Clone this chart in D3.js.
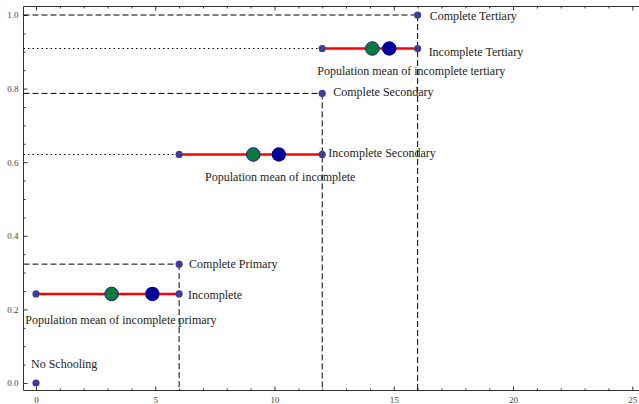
<!DOCTYPE html>
<html>
<head>
<meta charset="utf-8">
<script src="https://cdn.jsdelivr.net/npm/d3@7"></script>
<style>
  body { margin: 0; background: #fff; }
  svg { display: block; font-family: "Liberation Serif", "Times New Roman", serif; }
</style>
</head>
<body>
<div id="chart"></div>
<script>
// Completed levels (years of schooling, cumulative share)
const completeLevels = ['No Schooling', 'Complete Primary', 'Complete Secondary', 'Complete Tertiary'];
const completeYears = [0, 6, 12, 16];
const completeShare = [0, 0.323, 0.787, 1.0];

// Incomplete levels: range of years and cumulative share
const incompleteLevels = ['Incomplete', 'Incomplete Secondary', 'Incomplete Tertiary'];
const incompleteStart = [0, 6, 12];
const incompleteEnd = [6, 12, 16];
const incompleteShare = [0.242, 0.621, 0.909];

// Means inside each incomplete range
const populationMean = [3.17, 9.11, 14.1];
const otherMean = [4.88, 10.18, 14.81];

const meanLabels = ['Population mean of incomplete primary', 'Population mean of incomplete', 'Population mean of incomplete tertiary'];

// Ticks
const xTicks = [0, 5, 10, 15, 20, 25];
const yTicks = [0, 0.2, 0.4, 0.6, 0.8, 1.0];

const width = 639;
const height = 404;

const frame = { left: 23.5, top: 6.5, bottom: 390.5, right: 639 };

const x = d3.scaleLinear().domain([0, 25]).range([36, 632.3]);
const y = d3.scaleLinear().domain([0, 1]).range([383, 15]);

const svg = d3.select('#chart')
    .append('svg')
    .attr('width', width)
    .attr('height', height);

// Frame
svg.append('path')
    .attr('d', `M${frame.right},${frame.top}H${frame.left}V${frame.bottom}H${frame.right}`)
    .attr('fill', 'none')
    .attr('stroke', '#333')
    .attr('stroke-width', 1);

const xMinor = d3.range(0, 26, 1).filter((d) => d % 5 !== 0);
const yMinor = d3.range(0, 1.001, 0.05).filter((d) => Math.abs(d * 5 - Math.round(d * 5)) > 1e-6);

const styleAxis = (g) => {
    g.select('.domain').remove();
    g.selectAll('line').attr('stroke', '#333');
    g.selectAll('text').attr('fill', '#444').style('font-size', '9px').style('font-family', '"Liberation Serif", serif');
};

// Bottom axis
svg.append('g')
    .attr('transform', `translate(0,${frame.bottom})`)
    .call(d3.axisBottom(x).tickValues(xTicks).tickSize(-4).tickPadding(6).tickFormat(d3.format('d')))
    .call(styleAxis);
svg.append('g')
    .attr('transform', `translate(0,${frame.bottom})`)
    .call(d3.axisBottom(x).tickValues(xMinor).tickSize(-2).tickFormat(''))
    .call(styleAxis);

// Top axis
svg.append('g')
    .attr('transform', `translate(0,${frame.top})`)
    .call(d3.axisTop(x).tickValues(xTicks).tickSize(-4).tickFormat(''))
    .call(styleAxis);
svg.append('g')
    .attr('transform', `translate(0,${frame.top})`)
    .call(d3.axisTop(x).tickValues(xMinor).tickSize(-2).tickFormat(''))
    .call(styleAxis);

// Left axis
svg.append('g')
    .attr('transform', `translate(${frame.left},0)`)
    .call(d3.axisLeft(y).tickValues(yTicks).tickSize(-4).tickPadding(5).tickFormat(d3.format('.1f')))
    .call(styleAxis);
svg.append('g')
    .attr('transform', `translate(${frame.left},0)`)
    .call(d3.axisLeft(y).tickValues(yMinor).tickSize(-2).tickFormat(''))
    .call(styleAxis);

// Dashed guides to complete levels
completeYears.forEach((yr, i) => {
    if (i === 0) return;
    svg.append('line')
        .attr('x1', frame.left).attr('x2', x(yr))
        .attr('y1', y(completeShare[i])).attr('y2', y(completeShare[i]))
        .attr('stroke', '#000').attr('stroke-width', 1)
        .attr('stroke-dasharray', '6,3');
    svg.append('line')
        .attr('x1', x(yr)).attr('x2', x(yr))
        .attr('y1', y(completeShare[i])).attr('y2', frame.bottom)
        .attr('stroke', '#000').attr('stroke-width', 1)
        .attr('stroke-dasharray', '6,3');
});

// Dotted guides to incomplete levels
incompleteStart.forEach((s, i) => {
    if (s === 0) return;
    svg.append('line')
        .attr('x1', frame.left).attr('x2', x(s))
        .attr('y1', y(incompleteShare[i])).attr('y2', y(incompleteShare[i]))
        .attr('stroke', '#000').attr('stroke-width', 1)
        .attr('stroke-dasharray', '1.5,3');
});

// Red segments
svg.selectAll('.seg')
    .data(incompleteShare)
    .enter()
    .append('line')
    .attr('class', 'seg')
    .attr('x1', (d, i) => x(incompleteStart[i]))
    .attr('x2', (d, i) => x(incompleteEnd[i]))
    .attr('y1', (d) => y(d))
    .attr('y2', (d) => y(d))
    .attr('stroke', '#ff0000')
    .attr('stroke-width', 2.5);

const smallColor = '#3d3d99';

// Small points
const smallPts = [];
completeYears.forEach((yr, i) => smallPts.push([yr, completeShare[i]]));
incompleteStart.forEach((s, i) => {
    smallPts.push([s, incompleteShare[i]]);
    smallPts.push([incompleteEnd[i], incompleteShare[i]]);
});

// Means
svg.selectAll('.pm')
    .data(populationMean)
    .enter()
    .append('circle')
    .attr('cx', (d) => x(d))
    .attr('cy', (d, i) => y(incompleteShare[i]))
    .attr('r', 6.8)
    .attr('fill', '#0a7a3c')
    .attr('stroke', '#1a1a99')
    .attr('stroke-width', 1);

svg.selectAll('.om')
    .data(otherMean)
    .enter()
    .append('circle')
    .attr('cx', (d) => x(d))
    .attr('cy', (d, i) => y(incompleteShare[i]))
    .attr('r', 7.2)
    .attr('fill', '#000099');

svg.selectAll('.sp')
    .data(smallPts)
    .enter()
    .append('circle')
    .attr('cx', (d) => x(d[0]))
    .attr('cy', (d) => y(d[1]))
    .attr('r', 3.6)
    .attr('fill', smallColor);

// Labels: anchored at a data point, shifted in pixels
const labelOffsets = {
    complete: [[-5, -15], [10, 4], [11, 3], [12, 5]],
    incomplete: [[9, 5], [6, 3], [11, 7.5]],
    mean: [[-10.7, 30], [26, 26.5], [-5, 26.5]]
};

const addLabel = (text, px, py) => {
    svg.append('text')
        .attr('x', px)
        .attr('y', py)
        .attr('fill', '#222')
        .style('font-size', '12px')
        .text(text);
};

completeLevels.forEach((t, i) => {
    const o = labelOffsets.complete[i];
    addLabel(t, x(completeYears[i]) + o[0], y(completeShare[i]) + o[1]);
});
incompleteLevels.forEach((t, i) => {
    const o = labelOffsets.incomplete[i];
    addLabel(t, x(incompleteEnd[i]) + o[0], y(incompleteShare[i]) + o[1]);
});
meanLabels.forEach((t, i) => {
    const o = labelOffsets.mean[i];
    addLabel(t, x(incompleteStart[i]) + o[0], y(incompleteShare[i]) + o[1]);
});
</script>
</body>
</html>
